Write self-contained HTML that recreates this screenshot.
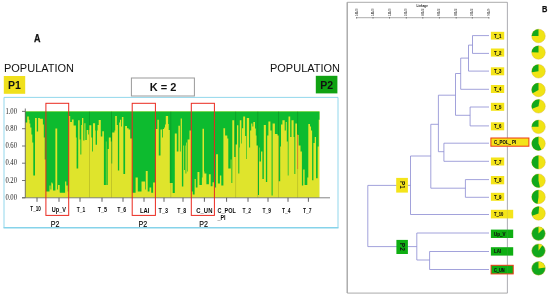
<!DOCTYPE html><html><head><meta charset="utf-8"><title>Figure</title>
<style>html,body{margin:0;padding:0;background:#fff}svg{display:block}text{font-family:"Liberation Sans",sans-serif}</style></head><body>
<svg width="550" height="297" viewBox="0 0 550 297">
<rect width="550" height="297" fill="#fff"/>
<text x="33.9" y="41.7" font-size="10.3" font-weight="bold" fill="#111" stroke="#111" stroke-width="0.25" textLength="6.5" lengthAdjust="spacingAndGlyphs">A</text>
<text x="4" y="71.8" font-size="11.6" fill="#111" textLength="70" lengthAdjust="spacingAndGlyphs">POPULATION</text>
<text x="270" y="71.8" font-size="11.6" fill="#111" textLength="70" lengthAdjust="spacingAndGlyphs">POPULATION</text>
<rect x="3.8" y="76" width="21.4" height="17.8" fill="#f0e01c"/>
<text x="14.5" y="89" font-size="10.5" font-weight="bold" text-anchor="middle" fill="#111">P1</text>
<rect x="315.8" y="75.8" width="21.6" height="17.6" fill="#10a212"/>
<text x="326.6" y="88.8" font-size="10.5" font-weight="bold" text-anchor="middle" fill="#111">P2</text>
<rect x="131.4" y="78" width="63" height="18" fill="#fff" stroke="#9a9a9a" stroke-width="1"/>
<text x="163" y="90.8" font-size="11" font-weight="bold" text-anchor="middle" fill="#111">K = 2</text>
<path d="M4 227.7V97.4H338V227.7" fill="none" stroke="#86d3ea" stroke-width="0.9"/>
<line x1="3.5" y1="227.8" x2="338.5" y2="227.8" stroke="#86d3ea" stroke-width="1.5"/>
<rect x="25.3" y="111.4" width="294.2" height="86.4" fill="#dfe42c"/>
<path d="M25.3 111.4H27.2V122.4H25.3ZM27.2 111.4H28.8V116.4H27.2ZM28.8 111.4H29.5V119.8H28.8ZM29.5 111.4H30.3V123.4H29.5ZM30.3 111.4H31.4V127.4H30.3ZM31.4 111.4H32.3V134.4H31.4ZM32.3 111.4H33.3V142.4H32.3ZM33.3 111.4H35.0V175.4H33.3ZM35.0 111.4H36.8V118.0H35.0ZM36.8 111.4H38.1V131.4H36.8ZM38.1 111.4H39.8V118.0H38.1ZM39.8 111.4H42.9V118.7H39.8ZM42.9 111.4H43.8V124.4H42.9ZM43.8 111.4H44.7V137.4H43.8ZM44.7 111.4H45.9V159.4H44.7ZM45.9 111.4H49.5V191.4H45.9ZM49.5 111.4H50.5V185.4H49.5ZM50.5 111.4H51.3V189.4H50.5ZM51.3 111.4H52.3V182.4H51.3ZM52.3 111.4H53.0V183.4H52.3ZM53.0 111.4H55.4V190.4H53.0ZM55.4 111.4H57.2V128.4H55.4ZM57.2 111.4H58.0V189.4H57.2ZM58.0 111.4H59.7V184.9H58.0ZM59.7 111.4H60.0V192.4H59.7ZM60.0 111.4H65.1V192.8H60.0ZM65.1 111.4H66.3V181.4H65.1ZM66.3 111.4H67.7V185.4H66.3ZM67.7 111.4H68.7V191.4H67.7ZM68.7 111.4H70.2V116.0H68.7ZM70.2 111.4H71.9V121.9H70.2ZM71.9 111.4H73.6V119.4H71.9ZM73.6 111.4H75.9V125.4H73.6ZM75.9 111.4H76.6V137.4H75.9ZM76.6 111.4H78.2V168.4H76.6ZM78.2 111.4H79.6V120.2H78.2ZM79.6 111.4H80.4V139.4H79.6ZM80.4 111.4H81.3V154.4H80.4ZM81.3 111.4H82.0V124.9H81.3ZM82.0 111.4H83.3V118.1H82.0ZM83.3 111.4H84.4V140.4H83.3ZM84.4 111.4H85.4V123.2H84.4ZM85.4 111.4H86.7V140.1H85.4ZM86.7 111.4H88.0V129.9H86.7ZM88.0 111.4H88.7V134.4H88.0ZM88.7 111.4H89.2V129.9H88.7ZM89.2 111.4H91.3V125.3H89.2ZM91.3 111.4H92.2V137.4H91.3ZM92.2 111.4H93.0V151.4H92.2ZM93.0 111.4H95.1V123.2H93.0ZM95.1 111.4H95.6V130.4H95.1ZM95.6 111.4H97.0V144.8H95.6ZM97.0 111.4H97.6V130.4H97.0ZM97.6 111.4H98.7V124.9H97.6ZM98.7 111.4H100.8V120.0H98.7ZM100.8 111.4H102.3V136.4H100.8ZM102.3 111.4H103.9V131.2H102.3ZM103.9 111.4H105.9V184.9H103.9ZM105.9 111.4H106.4V141.4H105.9ZM106.4 111.4H107.7V184.9H106.4ZM107.7 111.4H108.8V148.9H107.7ZM108.8 111.4H110.8V137.4H108.8ZM110.8 111.4H111.5V141.4H110.8ZM111.5 111.4H112.2V163.4H111.5ZM112.2 111.4H112.4V132.4H112.2ZM112.4 111.4H114.5V132.4H112.4ZM114.5 111.4H115.2V130.4H114.5ZM115.2 111.4H116.8V116.0H115.2ZM116.8 111.4H117.9V124.9H116.8ZM117.9 111.4H119.2V170.4H117.9ZM119.2 111.4H120.0V122.4H119.2ZM120.0 111.4H121.1V119.8H120.0ZM121.1 111.4H121.9V126.4H121.1ZM121.9 111.4H123.4V116.9H121.9ZM123.4 111.4H125.1V173.9H123.4ZM125.1 111.4H127.0V126.1H125.1ZM127.0 111.4H128.6V128.2H127.0ZM128.6 111.4H130.2V129.4H128.6ZM130.2 111.4H132.3V138.4H130.2ZM132.3 111.4H135.6V192.8H132.3ZM135.6 111.4H137.8V177.4H135.6ZM137.8 111.4H141.5V191.4H137.8ZM141.5 111.4H145.1V181.4H141.5ZM145.1 111.4H145.8V189.4H145.1ZM145.8 111.4H147.7V171.0H145.8ZM147.7 111.4H149.5V191.4H147.7ZM149.5 111.4H151.2V187.4H149.5ZM151.2 111.4H153.1V192.8H151.2ZM153.1 111.4H155.3V182.4H153.1ZM155.3 111.4H157.4V129.1H155.3ZM157.4 111.4H158.8V119.8H157.4ZM158.8 111.4H160.5V155.4H158.8ZM160.5 111.4H162.0V129.4H160.5ZM162.0 111.4H162.8V137.4H162.0ZM162.8 111.4H164.1V129.1H162.8ZM164.1 111.4H165.0V127.4H164.1ZM165.0 111.4H165.8V124.4H165.0ZM165.8 111.4H168.1V116.0H165.8ZM168.1 111.4H168.7V124.0H168.1ZM168.7 111.4H169.8V129.9H168.7ZM169.8 111.4H172.0V182.9H169.8ZM172.0 111.4H172.7V182.9H172.0ZM172.7 111.4H174.8V193.0H172.7ZM174.8 111.4H176.8V133.4H174.8ZM176.8 111.4H178.4V151.4H176.8ZM178.4 111.4H179.9V125.8H178.4ZM179.9 111.4H180.7V151.4H179.9ZM180.7 111.4H181.9V118.4H180.7ZM181.9 111.4H183.3V186.4H181.9ZM183.3 111.4H184.0V145.4H183.3ZM184.0 111.4H184.9V170.1H184.0ZM184.9 111.4H185.5V145.4H184.9ZM185.5 111.4H186.3V173.4H185.5ZM186.3 111.4H187.0V142.4H186.3ZM187.0 111.4H187.6V171.4H187.0ZM187.6 111.4H189.5V139.4H187.6ZM189.5 111.4H191.3V130.6H189.5ZM191.3 111.4H192.8V191.4H191.3ZM192.8 111.4H194.6V194.4H192.8ZM194.6 111.4H195.8V178.9H194.6ZM195.8 111.4H197.5V187.4H195.8ZM197.3 111.4H199.4V172.1H197.3ZM199.4 111.4H201.9V184.9H199.4ZM201.9 111.4H202.5V177.4H201.9ZM202.5 111.4H204.0V128.7H202.5ZM204.0 111.4H204.4V171.4H204.0ZM204.4 111.4H206.4V173.4H204.4ZM206.4 111.4H208.9V184.3H206.4ZM208.9 111.4H210.7V174.2H208.9ZM210.7 111.4H212.5V186.3H210.7ZM212.5 111.4H214.3V182.2H212.5ZM214.3 111.4H216.1V187.6H214.3ZM216.1 111.4H217.9V154.3H216.1ZM217.9 111.4H219.9V183.6H217.9ZM219.9 111.4H221.3V175.4H219.9ZM221.3 111.4H223.4V185.6H221.3ZM223.4 111.4H225.1V128.2H223.4ZM225.1 111.4H227.3V135.4H225.1ZM227.3 111.4H228.3V138.4H227.3ZM228.3 111.4H229.3V168.4H228.3ZM229.3 111.4H230.7V168.4H229.3ZM230.7 111.4H231.4V159.4H230.7ZM231.4 111.4H232.3V182.9H231.4ZM232.3 111.4H234.2V120.2H232.3ZM234.2 111.4H235.6V156.9H234.2ZM235.6 111.4H237.0V144.4H235.6ZM237.0 111.4H238.3V125.3H237.0ZM238.3 111.4H239.3V173.4H238.3ZM239.3 111.4H239.8V147.4H239.3ZM239.8 111.4H241.4V120.2H239.8ZM241.4 111.4H242.0V143.4H241.4ZM242.0 111.4H243.2V128.2H242.0ZM243.2 111.4H245.1V116.4H243.2ZM245.1 111.4H246.2V136.1H245.1ZM246.2 111.4H246.8V159.0H246.2ZM246.8 111.4H249.1V118.1H246.8ZM249.1 111.4H250.1V147.4H249.1ZM250.1 111.4H251.2V130.4H250.1ZM251.2 111.4H252.4V123.6H251.2ZM252.4 111.4H253.3V126.4H252.4ZM253.3 111.4H255.0V121.9H253.3ZM255.0 111.4H255.8V128.4H255.0ZM255.8 111.4H256.5V135.4H255.8ZM256.5 111.4H258.0V145.4H256.5ZM258.0 111.4H259.0V195.0H258.0ZM259.0 111.4H259.5V147.4H259.0ZM259.5 111.4H261.0V161.4H259.5ZM261.0 111.4H262.4V151.4H261.0ZM262.4 111.4H263.8V179.0H262.4ZM263.8 111.4H265.9V124.9H263.8ZM265.9 111.4H267.2V181.9H265.9ZM267.2 111.4H268.4V135.4H267.2ZM268.4 111.4H270.4V121.4H268.4ZM270.4 111.4H271.6V130.4H270.4ZM271.6 111.4H272.6V195.4H271.6ZM272.6 111.4H274.9V123.6H272.6ZM274.9 111.4H277.5V133.9H274.9ZM277.5 111.4H278.8V135.4H277.5ZM278.8 111.4H280.2V181.2H278.8ZM280.2 111.4H281.0V146.4H280.2ZM281.0 111.4H282.4V124.4H281.0ZM282.4 111.4H284.7V120.2H282.4ZM284.7 111.4H285.8V130.4H284.7ZM285.8 111.4H286.8V121.9H285.8ZM286.8 111.4H287.8V141.4H286.8ZM287.8 111.4H288.5V175.4H287.8ZM288.5 111.4H290.2V116.4H288.5ZM290.2 111.4H291.5V137.1H290.2ZM291.5 111.4H293.6V120.2H291.5ZM293.6 111.4H294.4V137.1H293.6ZM294.4 111.4H295.3V173.9H294.4ZM295.3 111.4H297.0V123.6H295.3ZM297.0 111.4H298.7V135.0H297.0ZM298.7 111.4H300.5V145.4H298.7ZM300.5 111.4H301.9V151.4H300.5ZM301.9 111.4H303.2V185.4H301.9ZM303.2 111.4H304.6V169.4H303.2ZM304.6 111.4H307.3V184.9H304.6ZM307.3 111.4H308.3V177.4H307.3ZM308.3 111.4H310.0V124.0H308.3ZM310.0 111.4H311.0V126.4H310.0ZM311.0 111.4H312.1V130.4H311.0ZM312.1 111.4H313.4V180.2H312.1ZM313.4 111.4H314.7V143.0H313.4ZM314.7 111.4H316.0V137.1H314.7ZM316.0 111.4H317.7V178.2H316.0ZM317.7 111.4H318.7V146.4H317.7ZM318.7 111.4H319.5V119.8H318.7Z" fill="#0dbb2f"/>
<line x1="89.5" y1="111.4" x2="89.5" y2="197.8" stroke="#000" stroke-opacity="0.22" stroke-width="0.6"/>
<line x1="111.5" y1="111.4" x2="111.5" y2="197.8" stroke="#000" stroke-opacity="0.22" stroke-width="0.6"/>
<line x1="170.8" y1="111.4" x2="170.8" y2="197.8" stroke="#000" stroke-opacity="0.22" stroke-width="0.6"/>
<line x1="235.6" y1="111.4" x2="235.6" y2="197.8" stroke="#000" stroke-opacity="0.22" stroke-width="0.6"/>
<line x1="257.8" y1="111.4" x2="257.8" y2="197.8" stroke="#000" stroke-opacity="0.22" stroke-width="0.6"/>
<line x1="278.5" y1="111.4" x2="278.5" y2="197.8" stroke="#000" stroke-opacity="0.22" stroke-width="0.6"/>
<line x1="297.6" y1="111.4" x2="297.6" y2="197.8" stroke="#000" stroke-opacity="0.22" stroke-width="0.6"/>
<line x1="297.6" y1="134.5" x2="297.6" y2="169" stroke="#e0702a" stroke-width="0.8"/>
<line x1="25.3" y1="108.5" x2="25.3" y2="197.8" stroke="#555" stroke-width="0.8"/>
<line x1="22" y1="197.8" x2="330" y2="197.8" stroke="#777" stroke-width="0.9"/>
<line x1="22" y1="111.4" x2="25.3" y2="111.4" stroke="#555" stroke-width="0.8"/>
<text x="5.4" y="113.6" font-size="7.2" style="font-family:'Liberation Serif',serif" fill="#222" textLength="11.6" lengthAdjust="spacingAndGlyphs">1.00</text>
<line x1="22" y1="128.7" x2="25.3" y2="128.7" stroke="#555" stroke-width="0.8"/>
<text x="5.4" y="130.9" font-size="7.2" style="font-family:'Liberation Serif',serif" fill="#222" textLength="11.6" lengthAdjust="spacingAndGlyphs">0.80</text>
<line x1="22" y1="146.0" x2="25.3" y2="146.0" stroke="#555" stroke-width="0.8"/>
<text x="5.4" y="148.2" font-size="7.2" style="font-family:'Liberation Serif',serif" fill="#222" textLength="11.6" lengthAdjust="spacingAndGlyphs">0.60</text>
<line x1="22" y1="163.2" x2="25.3" y2="163.2" stroke="#555" stroke-width="0.8"/>
<text x="5.4" y="165.4" font-size="7.2" style="font-family:'Liberation Serif',serif" fill="#222" textLength="11.6" lengthAdjust="spacingAndGlyphs">0.40</text>
<line x1="22" y1="180.5" x2="25.3" y2="180.5" stroke="#555" stroke-width="0.8"/>
<text x="5.4" y="182.7" font-size="7.2" style="font-family:'Liberation Serif',serif" fill="#222" textLength="11.6" lengthAdjust="spacingAndGlyphs">0.20</text>
<line x1="22" y1="197.8" x2="25.3" y2="197.8" stroke="#555" stroke-width="0.8"/>
<text x="5.4" y="200.0" font-size="7.2" style="font-family:'Liberation Serif',serif" fill="#222" textLength="11.6" lengthAdjust="spacingAndGlyphs">0.00</text>
<line x1="37" y1="197.8" x2="37" y2="201.8" stroke="#505050" stroke-width="0.9"/>
<line x1="59" y1="197.8" x2="59" y2="201.8" stroke="#505050" stroke-width="0.9"/>
<line x1="80" y1="197.8" x2="80" y2="201.8" stroke="#505050" stroke-width="0.9"/>
<line x1="102" y1="197.8" x2="102" y2="201.8" stroke="#505050" stroke-width="0.9"/>
<line x1="123" y1="197.8" x2="123" y2="201.8" stroke="#505050" stroke-width="0.9"/>
<line x1="144" y1="197.8" x2="144" y2="201.8" stroke="#505050" stroke-width="0.9"/>
<line x1="164" y1="197.8" x2="164" y2="201.8" stroke="#505050" stroke-width="0.9"/>
<line x1="183" y1="197.8" x2="183" y2="201.8" stroke="#505050" stroke-width="0.9"/>
<line x1="204.4" y1="197.8" x2="204.4" y2="201.8" stroke="#505050" stroke-width="0.9"/>
<line x1="226.6" y1="197.8" x2="226.6" y2="201.8" stroke="#505050" stroke-width="0.9"/>
<line x1="248" y1="197.8" x2="248" y2="201.8" stroke="#505050" stroke-width="0.9"/>
<line x1="268" y1="197.8" x2="268" y2="201.8" stroke="#505050" stroke-width="0.9"/>
<line x1="288" y1="197.8" x2="288" y2="201.8" stroke="#505050" stroke-width="0.9"/>
<line x1="308.4" y1="197.8" x2="308.4" y2="201.8" stroke="#505050" stroke-width="0.9"/>
<text x="30.3" y="211.2" font-size="6.6" font-weight="bold" fill="#0a0a0a" textLength="10.6" lengthAdjust="spacingAndGlyphs">T_10</text>
<text x="51.8" y="211.6" font-size="6.6" font-weight="bold" fill="#0a0a0a" textLength="14.2" lengthAdjust="spacingAndGlyphs">Up_V</text>
<text x="76.8" y="211.8" font-size="6.6" font-weight="bold" fill="#0a0a0a" textLength="8.5" lengthAdjust="spacingAndGlyphs">T_1</text>
<text x="97.8" y="211.6" font-size="6.6" font-weight="bold" fill="#0a0a0a" textLength="9.2" lengthAdjust="spacingAndGlyphs">T_5</text>
<text x="117.2" y="212.2" font-size="6.6" font-weight="bold" fill="#0a0a0a" textLength="9.0" lengthAdjust="spacingAndGlyphs">T_6</text>
<text x="140" y="212.5" font-size="6.6" font-weight="bold" fill="#0a0a0a" textLength="9.4" lengthAdjust="spacingAndGlyphs">LAI</text>
<text x="158.6" y="212.5" font-size="6.6" font-weight="bold" fill="#0a0a0a" textLength="9.4" lengthAdjust="spacingAndGlyphs">T_3</text>
<text x="177.2" y="212.5" font-size="6.6" font-weight="bold" fill="#0a0a0a" textLength="9.0" lengthAdjust="spacingAndGlyphs">T_8</text>
<text x="196.3" y="212.7" font-size="6.6" font-weight="bold" fill="#0a0a0a" textLength="16.1" lengthAdjust="spacingAndGlyphs">C_UN</text>
<text x="217.5" y="212.7" font-size="6.6" font-weight="bold" fill="#0a0a0a" textLength="18.3" lengthAdjust="spacingAndGlyphs">C_POL</text>
<text x="242.4" y="212.7" font-size="6.6" font-weight="bold" fill="#0a0a0a" textLength="8.6" lengthAdjust="spacingAndGlyphs">T_2</text>
<text x="262.4" y="212.8" font-size="6.6" font-weight="bold" fill="#0a0a0a" textLength="8.6" lengthAdjust="spacingAndGlyphs">T_9</text>
<text x="282" y="212.8" font-size="6.6" font-weight="bold" fill="#0a0a0a" textLength="8.6" lengthAdjust="spacingAndGlyphs">T_4</text>
<text x="303" y="212.8" font-size="6.6" font-weight="bold" fill="#0a0a0a" textLength="8.6" lengthAdjust="spacingAndGlyphs">T_7</text>
<text x="217.5" y="220" font-size="6.6" font-weight="bold" fill="#0a0a0a" textLength="8.1" lengthAdjust="spacingAndGlyphs">_PI</text>
<text x="50.7" y="227.2" font-size="8.7" fill="#0a0a0a" stroke="#0a0a0a" stroke-width="0.15" textLength="8.7" lengthAdjust="spacingAndGlyphs">P2</text>
<text x="138.5" y="227.2" font-size="8.7" fill="#0a0a0a" stroke="#0a0a0a" stroke-width="0.15" textLength="8.7" lengthAdjust="spacingAndGlyphs">P2</text>
<text x="199.2" y="227.2" font-size="8.7" fill="#0a0a0a" stroke="#0a0a0a" stroke-width="0.15" textLength="8.7" lengthAdjust="spacingAndGlyphs">P2</text>
<rect x="45.9" y="103.3" width="22.8" height="112.1" fill="none" stroke="#ea2a20" stroke-width="1"/>
<rect x="132.2" y="103.3" width="23.2" height="112.1" fill="none" stroke="#ea2a20" stroke-width="1"/>
<rect x="191.3" y="103.3" width="23.1" height="112.1" fill="none" stroke="#ea2a20" stroke-width="1"/>
<path d="M347.2 2.3H507.4M347.2 293.1H507.4" fill="none" stroke="#a2a2a2" stroke-width="0.9"/>
<line x1="347.2" y1="2.3" x2="347.2" y2="293.1" stroke="#a0a0a0" stroke-width="1.3"/>
<text x="541.9" y="11.8" font-size="8.8" font-weight="bold" fill="#111" stroke="#111" stroke-width="0.25" textLength="5.4" lengthAdjust="spacingAndGlyphs">B</text>
<line x1="356.3" y1="17.7" x2="489.2" y2="17.7" stroke="#666" stroke-width="0.55"/>
<line x1="356.6" y1="17.2" x2="356.6" y2="18.5" stroke="#444" stroke-width="0.7"/>
<text transform="translate(357.6,15.8) rotate(-90)" font-size="2.9" font-weight="bold" fill="#333" textLength="7.2" lengthAdjust="spacingAndGlyphs">1.6E+03</text>
<line x1="373" y1="17.2" x2="373" y2="18.5" stroke="#444" stroke-width="0.7"/>
<text transform="translate(374.0,15.8) rotate(-90)" font-size="2.9" font-weight="bold" fill="#333" textLength="7.2" lengthAdjust="spacingAndGlyphs">1.4E+03</text>
<line x1="389.5" y1="17.2" x2="389.5" y2="18.5" stroke="#444" stroke-width="0.7"/>
<text transform="translate(390.5,15.8) rotate(-90)" font-size="2.9" font-weight="bold" fill="#333" textLength="7.2" lengthAdjust="spacingAndGlyphs">1.2E+03</text>
<line x1="406.3" y1="17.2" x2="406.3" y2="18.5" stroke="#444" stroke-width="0.7"/>
<text transform="translate(407.3,15.8) rotate(-90)" font-size="2.9" font-weight="bold" fill="#333" textLength="7.2" lengthAdjust="spacingAndGlyphs">1.0E+03</text>
<line x1="422.8" y1="17.2" x2="422.8" y2="18.5" stroke="#444" stroke-width="0.7"/>
<text transform="translate(423.8,15.8) rotate(-90)" font-size="2.9" font-weight="bold" fill="#333" textLength="7.2" lengthAdjust="spacingAndGlyphs">8.0E+02</text>
<line x1="439.4" y1="17.2" x2="439.4" y2="18.5" stroke="#444" stroke-width="0.7"/>
<text transform="translate(440.4,15.8) rotate(-90)" font-size="2.9" font-weight="bold" fill="#333" textLength="7.2" lengthAdjust="spacingAndGlyphs">6.0E+02</text>
<line x1="456.2" y1="17.2" x2="456.2" y2="18.5" stroke="#444" stroke-width="0.7"/>
<text transform="translate(457.2,15.8) rotate(-90)" font-size="2.9" font-weight="bold" fill="#333" textLength="7.2" lengthAdjust="spacingAndGlyphs">4.0E+02</text>
<line x1="472.3" y1="17.2" x2="472.3" y2="18.5" stroke="#444" stroke-width="0.7"/>
<text transform="translate(473.3,15.8) rotate(-90)" font-size="2.9" font-weight="bold" fill="#333" textLength="7.2" lengthAdjust="spacingAndGlyphs">2.0E+02</text>
<line x1="488.9" y1="17.2" x2="488.9" y2="18.5" stroke="#444" stroke-width="0.7"/>
<text transform="translate(489.9,15.8) rotate(-90)" font-size="2.9" font-weight="bold" fill="#333" textLength="7.2" lengthAdjust="spacingAndGlyphs">0.0E+00</text>
<text x="416.6" y="6.6" font-size="2.8" font-weight="bold" fill="#222" textLength="11.2" lengthAdjust="spacingAndGlyphs">Linkage</text>
<line x1="507.4" y1="2.3" x2="507.4" y2="293.1" stroke="#a2a2a8" stroke-width="0.8"/>
<path d="M472.5 35.6H489M472.5 53.4H489M468.5 45.1H472.5M468.5 71.1H489M460.7 58.1H468.5M460.7 89.3H489M455.5 73.5H460.7M470.1 107H489M470.1 125.9H489M455.5 115.3H470.1M438.4 95.2H455.5M443.9 143.2H489M443.9 161.3H489M438.4 151.7H443.9M430.8 124.3H438.4M465.4 179.6H489M465.4 197.3H489M430.8 188.2H465.4M410.5 156H430.8M410.5 214.5H489M367.8 185.4H410.5M416.8 233H489M429.6 251.5H489M429.6 269.5H489M416.8 260H429.6M367.8 246.6H416.8M472.5 35.6V53.4M468.5 45.1V71.1M460.7 58.1V89.3M470.1 107V125.9M455.5 73.5V115.3M443.9 143.2V161.3M438.4 95.2V151.7M465.4 179.6V197.3M430.8 124.3V188.2M410.5 156V214.5M429.6 251.5V269.5M416.8 233V260M367.8 185.4V246.6" fill="none" stroke="#8a8ad2" stroke-width="0.8"/>
<rect x="490.9" y="31.8" width="13.3" height="7.8" fill="#f4e41a"/>
<text x="494.0" y="37.7" font-size="5.6" font-weight="bold" fill="#111" stroke="#111" stroke-width="0.12" textLength="7.4" lengthAdjust="spacingAndGlyphs">T_1</text>
<rect x="490.9" y="48.5" width="13.3" height="8.1" fill="#f4e41a"/>
<text x="494.0" y="54.5" font-size="5.6" font-weight="bold" fill="#111" stroke="#111" stroke-width="0.12" textLength="7.4" lengthAdjust="spacingAndGlyphs">T_2</text>
<rect x="490.9" y="67.3" width="13.3" height="8" fill="#f4e41a"/>
<text x="494.0" y="73.3" font-size="5.6" font-weight="bold" fill="#111" stroke="#111" stroke-width="0.12" textLength="7.4" lengthAdjust="spacingAndGlyphs">T_3</text>
<rect x="490.9" y="85" width="13.3" height="8" fill="#f4e41a"/>
<text x="494.0" y="91.0" font-size="5.6" font-weight="bold" fill="#111" stroke="#111" stroke-width="0.12" textLength="7.4" lengthAdjust="spacingAndGlyphs">T_4</text>
<rect x="490.9" y="102.8" width="13.3" height="8" fill="#f4e41a"/>
<text x="494.0" y="108.8" font-size="5.6" font-weight="bold" fill="#111" stroke="#111" stroke-width="0.12" textLength="7.4" lengthAdjust="spacingAndGlyphs">T_5</text>
<rect x="490.9" y="122.3" width="13.3" height="8" fill="#f4e41a"/>
<text x="494.0" y="128.3" font-size="5.6" font-weight="bold" fill="#111" stroke="#111" stroke-width="0.12" textLength="7.4" lengthAdjust="spacingAndGlyphs">T_6</text>
<rect x="490.9" y="138" width="38" height="8.2" fill="#f4e41a" stroke="#ee3a14" stroke-width="1"/>
<text x="494.0" y="144.1" font-size="5.6" font-weight="bold" fill="#111" stroke="#111" stroke-width="0.12" textLength="22.1" lengthAdjust="spacingAndGlyphs">C_POL_ PI</text>
<rect x="490.9" y="157.5" width="13.3" height="8" fill="#f4e41a"/>
<text x="494.0" y="163.5" font-size="5.6" font-weight="bold" fill="#111" stroke="#111" stroke-width="0.12" textLength="7.4" lengthAdjust="spacingAndGlyphs">T_7</text>
<rect x="490.9" y="176" width="13.3" height="8.3" fill="#f4e41a"/>
<text x="494.0" y="182.2" font-size="5.6" font-weight="bold" fill="#111" stroke="#111" stroke-width="0.12" textLength="7.4" lengthAdjust="spacingAndGlyphs">T_8</text>
<rect x="490.9" y="192.8" width="13.3" height="8" fill="#f4e41a"/>
<text x="494.0" y="198.8" font-size="5.6" font-weight="bold" fill="#111" stroke="#111" stroke-width="0.12" textLength="7.4" lengthAdjust="spacingAndGlyphs">T_9</text>
<rect x="490.9" y="209.8" width="22.3" height="8.6" fill="#f4e41a"/>
<text x="494.0" y="216.1" font-size="5.6" font-weight="bold" fill="#111" stroke="#111" stroke-width="0.12" textLength="9.3" lengthAdjust="spacingAndGlyphs">T_10</text>
<rect x="490.9" y="229.6" width="22.3" height="8.4" fill="#0eae12"/>
<text x="494.0" y="235.8" font-size="5.6" font-weight="bold" fill="#111" stroke="#111" stroke-width="0.12" textLength="11.4" lengthAdjust="spacingAndGlyphs">Up_V</text>
<rect x="490.9" y="247.2" width="22.3" height="8.4" fill="#0eae12"/>
<text x="494.0" y="253.4" font-size="5.6" font-weight="bold" fill="#111" stroke="#111" stroke-width="0.12" textLength="7" lengthAdjust="spacingAndGlyphs">LAI</text>
<rect x="491.1" y="265.3" width="22.1" height="8.6" fill="#0eae12" stroke="#ee3a14" stroke-width="1"/>
<text x="494.0" y="271.6" font-size="5.6" font-weight="bold" fill="#111" stroke="#111" stroke-width="0.12" textLength="10.7" lengthAdjust="spacingAndGlyphs">C_UN</text>
<line x1="507.4" y1="2.3" x2="507.4" y2="293.1" stroke="#8a8a96" stroke-opacity="0.2" stroke-width="0.8"/>
<rect x="396.2" y="177.9" width="11.7" height="14.7" fill="#f4e41a"/>
<text transform="translate(399.8,181.1) rotate(90)" font-size="8.1" font-weight="bold" fill="#111" textLength="7.8" lengthAdjust="spacingAndGlyphs">P1</text>
<rect x="396.4" y="239.9" width="11.5" height="14.1" fill="#0eae12"/>
<text transform="translate(399.8,242.8) rotate(90)" font-size="8.1" font-weight="bold" fill="#111" textLength="8" lengthAdjust="spacingAndGlyphs">P2</text>
<circle cx="538.5" cy="36" r="6.8" fill="#f0e414" stroke="#d8b030" stroke-width="0.4"/>
<path d="M538.5 36L531.70 36.00A6.8 6.8 0 0 1 538.50 29.20Z" fill="#12a81c"/>
<circle cx="538.5" cy="52.5" r="6.8" fill="#f0e414" stroke="#d8b030" stroke-width="0.4"/>
<path d="M538.5 52.5L531.70 52.26A6.8 6.8 0 0 1 538.50 45.70Z" fill="#12a81c"/>
<circle cx="538.5" cy="71.3" r="6.8" fill="#f0e414" stroke="#d8b030" stroke-width="0.4"/>
<path d="M538.5 71.3L531.77 72.25A6.8 6.8 0 0 1 538.50 64.50Z" fill="#12a81c"/>
<circle cx="538.5" cy="89.9" r="6.8" fill="#f0e414" stroke="#d8b030" stroke-width="0.4"/>
<path d="M538.5 89.9L532.61 93.30A6.8 6.8 0 0 1 538.50 83.10Z" fill="#12a81c"/>
<circle cx="538.5" cy="106.3" r="6.8" fill="#f0e414" stroke="#d8b030" stroke-width="0.4"/>
<path d="M538.5 106.3L532.11 108.63A6.8 6.8 0 0 1 539.68 99.60Z" fill="#12a81c"/>
<circle cx="538.5" cy="126.8" r="6.8" fill="#f0e414" stroke="#d8b030" stroke-width="0.4"/>
<path d="M538.5 126.8L531.70 126.80A6.8 6.8 0 0 1 538.50 120.00Z" fill="#12a81c"/>
<circle cx="538.5" cy="143.6" r="6.8" fill="#f0e414" stroke="#d8b030" stroke-width="0.4"/>
<path d="M538.5 143.6L541.37 149.76A6.8 6.8 0 1 1 538.50 136.80Z" fill="#12a81c"/>
<circle cx="538.5" cy="162.3" r="6.8" fill="#f0e414" stroke="#d8b030" stroke-width="0.4"/>
<path d="M538.5 162.3L538.50 169.10A6.8 6.8 0 0 1 538.50 155.50Z" fill="#12a81c"/>
<circle cx="538.5" cy="180.7" r="6.8" fill="#f0e414" stroke="#d8b030" stroke-width="0.4"/>
<path d="M538.5 180.7L539.91 187.35A6.8 6.8 0 1 1 538.50 173.90Z" fill="#12a81c"/>
<circle cx="538.5" cy="196.9" r="6.8" fill="#f0e414" stroke="#d8b030" stroke-width="0.4"/>
<path d="M538.5 196.9L537.55 203.63A6.8 6.8 0 0 1 538.50 190.10Z" fill="#12a81c"/>
<circle cx="538.5" cy="213.4" r="6.8" fill="#f0e414" stroke="#d8b030" stroke-width="0.4"/>
<path d="M538.5 213.4L532.11 215.73A6.8 6.8 0 0 1 539.09 206.63Z" fill="#12a81c"/>
<circle cx="538.5" cy="233.6" r="6.8" fill="#12a81c" stroke="#d8b030" stroke-width="0.4"/>
<path d="M538.5 233.6L538.50 226.80A6.8 6.8 0 0 1 543.31 228.79Z" fill="#f0e414"/>
<circle cx="538.5" cy="250.7" r="6.8" fill="#12a81c" stroke="#d8b030" stroke-width="0.4"/>
<path d="M538.5 250.7L538.50 243.90A6.8 6.8 0 0 1 542.40 245.13Z" fill="#f0e414"/>
<circle cx="538.5" cy="268.4" r="6.8" fill="#12a81c" stroke="#d8b030" stroke-width="0.4"/>
<path d="M538.5 268.4L538.50 261.60A6.8 6.8 0 0 1 545.23 267.45Z" fill="#f0e414"/>
</svg></body></html>
